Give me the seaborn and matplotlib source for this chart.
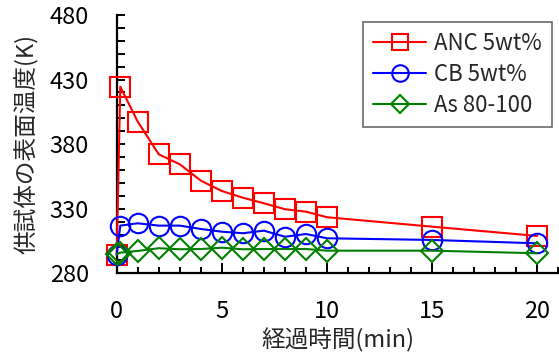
import matplotlib
matplotlib.use('Agg')
import matplotlib.pyplot as plt
import seaborn as sns
from matplotlib.ticker import MultipleLocator

# time (min)
time_min = [0, 0.17, 1, 2, 3, 4, 5, 6, 7, 8, 9, 10, 15, 20]
# surface temperature (K)
anc_5wt = [294.2, 424.5, 397.4, 372.1, 364.4, 351.7, 343.7, 338.5, 334.2, 329.6, 327.7, 323.4, 316.1, 308.9]
cb_5wt = [294.2, 316.9, 318.7, 316.9, 316.9, 314.3, 312.2, 311.0, 313.0, 308.3, 310.4, 307.1, 305.8, 303.2]
as_80_100 = [294.7, 296.0, 297.3, 299.4, 298.6, 298.8, 299.8, 298.6, 298.8, 298.8, 298.8, 297.5, 297.5, 295.5]

series_names = ['ANC 5wt%', 'CB 5wt%', 'As 80-100']
y_ticks = [280, 330, 380, 430, 480]
x_ticks = [0, 5, 10, 15, 20]

sns.set_style('ticks')
plt.rcParams['font.family'] = ['Noto Sans CJK JP', 'DejaVu Sans']

fig = plt.figure(figsize=(5.59, 3.61), dpi=100)
ax = fig.add_axes([0.2088, 0.243, 0.791, 0.7155])

styles = [('red', 's'), ('blue', 'o'), ('green', 'D')]
for vals, name, (col, mk) in zip([anc_5wt, cb_5wt, as_80_100], series_names, styles):
    ms = 11 if mk == 'D' else 14
    sns.lineplot(x=time_min, y=vals, ax=ax, color=col, marker=mk, markersize=ms,
                 markerfacecolor='none', markeredgecolor=col, markeredgewidth=1.5,
                 linewidth=1.5, label=name, clip_on=False, zorder=3)

ax.set_xlim(0, 21.03)
ax.set_ylim(280, 480)
ax.set_xticks(x_ticks)
ax.set_yticks(y_ticks)
ax.xaxis.set_minor_locator(MultipleLocator(1))
ax.yaxis.set_minor_locator(MultipleLocator(10))

for side in ['top', 'right']:
    ax.spines[side].set_visible(False)
for side in ['left', 'bottom']:
    ax.spines[side].set_linewidth(1.6)
    ax.spines[side].set_color('black')

ax.tick_params(axis='both', which='both', direction='in', color='black', width=1.4,
               labelsize=17, labelcolor='black')
ax.tick_params(axis='x', which='major', length=7, pad=19)
ax.tick_params(axis='x', which='minor', length=4.5)
ax.tick_params(axis='y', which='both', length=6, pad=20)

ax.set_xlabel('経過時間(min)', fontsize=17, labelpad=4)
ax.set_ylabel('供試体の表面温度(K)', fontsize=17, labelpad=8)

leg = ax.legend(loc='upper right', bbox_to_anchor=(0.984, 0.973), borderaxespad=0,
                fontsize=16, frameon=True, fancybox=False, edgecolor='#444444',
                handlelength=2.4, markerscale=0.85, labelspacing=0.35,
                borderpad=0.45, handletextpad=0.35)
leg.get_frame().set_linewidth(1.2)

fig.savefig('out.png', dpi=100)
